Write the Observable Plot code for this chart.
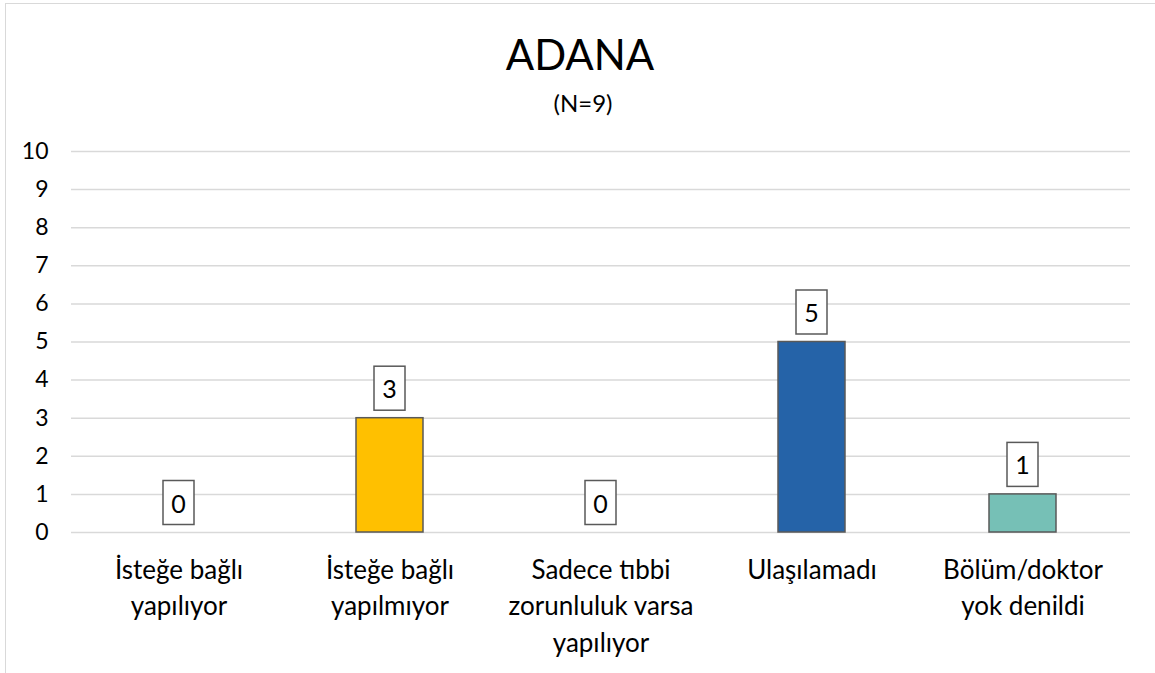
<!DOCTYPE html>
<html>
<head>
<meta charset="utf-8">
<script src="https://cdn.jsdelivr.net/npm/d3@7"></script>
<script src="https://cdn.jsdelivr.net/npm/@observablehq/plot@0.6"></script>
<style>
  html, body { margin: 0; padding: 0; background: #fff; overflow: hidden; }
  body { width: 1155px; height: 673px; position: relative; font-family: Lato, "Open Sans", sans-serif; }
  #frame { position: absolute; left: 5px; top: 3px; width: 1170px; height: 700px; border: 1.5px solid #d9d9d9; box-sizing: border-box; }
  #title { position: absolute; left: 0; width: 1160px; top: 28px; text-align: center; font-size: 42px; line-height: 52px; color: #000; }
  #subtitle { position: absolute; left: 0; width: 1166px; top: 88px; text-align: center; font-size: 24px; line-height: 30px; color: #000; }
  #chart { position: absolute; left: 0; top: 120px; }
</style>
</head>
<body>
<div id="frame"></div>
<div id="title">ADANA</div>
<div id="subtitle">(N=9)</div>
<div id="chart"></div>
<script>
const categories = [
  "İsteğe bağlı\nyapılıyor",
  "İsteğe bağlı\nyapılmıyor",
  "Sadece tıbbi\nzorunluluk varsa\nyapılıyor",
  "Ulaşılamadı",
  "Bölüm/doktor\nyok denildi"
];
const values = [0, 3, 0, 5, 1];
const colors = ["#FFC000", "#FFC000", "#A5A5A5", "#2563A8", "#76C0B6"];
const yTicks = [0, 1, 2, 3, 4, 5, 6, 7, 8, 9, 10];

const data = categories.map((c, i) => ({category: c, value: values[i], color: colors[i]}));

const labelBoxes = (index, scales, vals, dimensions) => {
  const g = d3.create("svg:g");
  const bw = scales.x.bandwidth ? scales.x.bandwidth() : 0;
  for (const d of data) {
    const cx = scales.x(d.category) + bw / 2;
    const yb = scales.y(d.value) - 7.5;
    const w = 31, h = 44;
    g.append("rect")
      .attr("x", cx - w / 2).attr("y", yb - h)
      .attr("width", w).attr("height", h)
      .attr("fill", "#fff").attr("stroke", "#595959").attr("stroke-width", 1.5);
    g.append("text")
      .attr("x", cx).attr("y", yb - h / 2)
      .attr("text-anchor", "middle").attr("dominant-baseline", "central")
      .attr("font-family", "Lato, 'Open Sans', sans-serif")
      .attr("font-size", 25).attr("fill", "#000")
      .text(String(d.value));
  }
  return g.node();
};

const plot = Plot.plot({
  width: 1155,
  height: 553,
  marginLeft: 71,
  marginRight: 25,
  marginTop: 31,
  marginBottom: 141,
  style: {fontFamily: "Lato, 'Open Sans', sans-serif", background: "transparent", overflow: "visible"},
  x: {domain: categories, paddingInner: 0.684, paddingOuter: 0.34, label: null},
  y: {domain: [0, 10], label: null},
  marks: [
    Plot.ruleY(yTicks, {stroke: "#d9d9d9", strokeWidth: 1.5, strokeOpacity: 1}),
    Plot.barY(data.filter(d => d.value > 0), {
      x: "category", y: "value", fill: "color",
      stroke: "#595959", strokeWidth: 1.5
    }),
    Plot.axisY({ticks: yTicks, tickSize: 0, tickPadding: 23, fontSize: 23, fill: "#000", label: null}),
    Plot.axisX({tickSize: 0, tickPadding: 0, fontSize: 26, fill: "#000", label: null, lineHeight: 1.41, dy: 20, textAnchor: "middle"}),
    labelBoxes
  ]
});
document.getElementById("chart").appendChild(plot);
</script>
</body>
</html>
